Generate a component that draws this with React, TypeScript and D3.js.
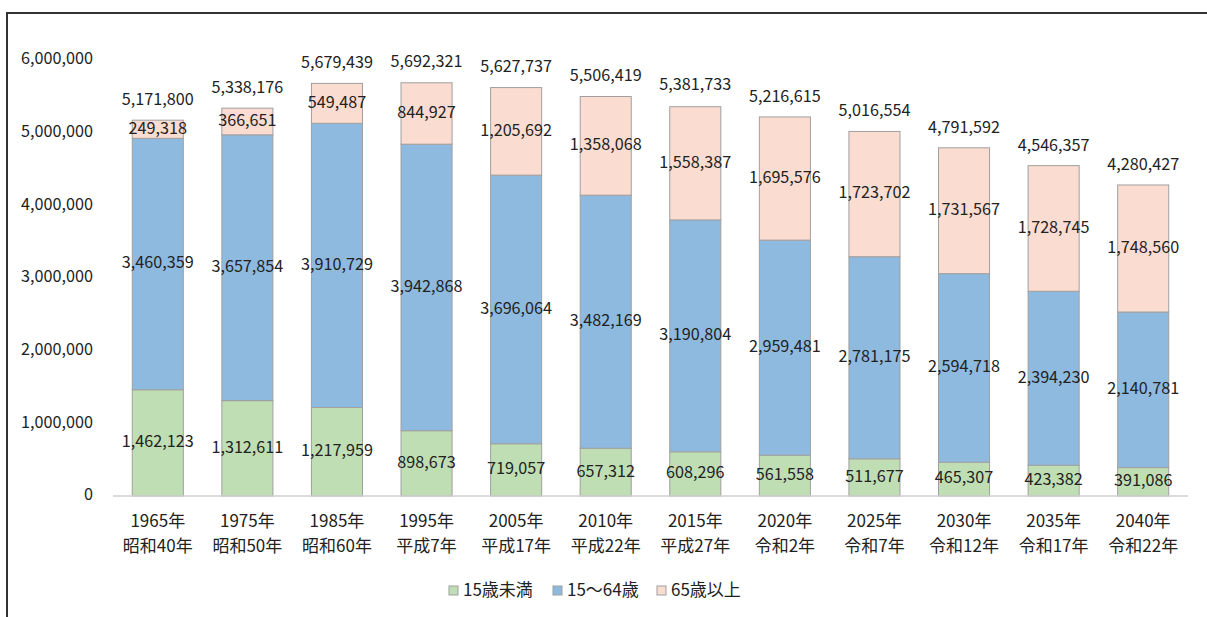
import React from "react";
import * as d3 from "d3";

const years = ["1965年", "1975年", "1985年", "1995年", "2005年", "2010年", "2015年", "2020年", "2025年", "2030年", "2035年", "2040年"];
const eras = ["昭和40年", "昭和50年", "昭和60年", "平成7年", "平成17年", "平成22年", "平成27年", "令和2年", "令和7年", "令和12年", "令和17年", "令和22年"];
const under15 = [1462123, 1312611, 1217959, 898673, 719057, 657312, 608296, 561558, 511677, 465307, 423382, 391086];
const age15to64 = [3460359, 3657854, 3910729, 3942868, 3696064, 3482169, 3190804, 2959481, 2781175, 2594718, 2394230, 2140781];
const over65 = [249318, 366651, 549487, 844927, 1205692, 1358068, 1558387, 1695576, 1723702, 1731567, 1728745, 1748560];
const totals = [5171800, 5338176, 5679439, 5692321, 5627737, 5506419, 5381733, 5216615, 5016554, 4791592, 4546357, 4280427];
const yTicks = [0, 1000000, 2000000, 3000000, 4000000, 5000000, 6000000];
const seriesNames = ["15歳未満", "15～64歳", "65歳以上"];
const seriesColors = ["#bfdeb3", "#8ebadf", "#fbdcd0"];

const FONT = "'Noto Sans CJK JP', 'Noto Sans', sans-serif";
const fmt = d3.format(",");
const NUM = 16.2;
const CAT = 17;

export default function App() {
  const W = 1207, H = 617;
  const x = d3.scaleBand<number>().domain(d3.range(years.length)).range([113, 1188]).paddingInner(0.43).paddingOuter(0.215);
  const y = d3.scaleLinear().domain([0, 6000000]).range([496, 60]);
  const rows = years.map((_, i) => ({ i, a: under15[i], b: age15to64[i], c: over65[i] }));
  const stack = d3.stack<any>().keys(["a", "b", "c"])(rows);
  const bw = x.bandwidth();

  return (
    <svg width={W} height={H} style={{ position: "absolute", left: 0, top: 0, background: "#fff" }} fontFamily={FONT}>
      <rect x={0} y={0} width={W} height={H} fill="#fff" />
      <line x1={6} x2={W} y1={13} y2={13} stroke="#333" strokeWidth={2} />
      <line x1={7} x2={7} y1={12} y2={H} stroke="#333" strokeWidth={2} />
      {yTicks.map((t) => (
        <text key={t} x={93} y={y(t)} textAnchor="end" dominantBaseline="middle" fontSize={NUM} fill="#222">
          {fmt(t)}
        </text>
      ))}
      {stack.map((layer, si) => (
        <g key={si}>
          {layer.map((d, i) => (
            <rect key={i} x={x(i)!} y={y(d[1])} width={bw} height={y(d[0]) - y(d[1])} fill={seriesColors[si]} stroke="#a0a0a0" strokeWidth={1} />
          ))}
        </g>
      ))}
      <line x1={113} x2={1188} y1={y(0)} y2={y(0)} stroke="#d0d0d0" strokeWidth={1.5} />
      {stack.map((layer, si) => (
        <g key={"l" + si}>
          {layer.map((d, i) => (
            <text key={i} x={x(i)! + bw / 2} y={(y(d[0]) + y(d[1])) / 2} textAnchor="middle" dominantBaseline="middle" fontSize={NUM} fill="#222">
              {fmt(d[1] - d[0])}
            </text>
          ))}
        </g>
      ))}
      {totals.map((t, i) => (
        <text key={i} x={x(i)! + bw / 2} y={y(t) - 19.5} textAnchor="middle" dominantBaseline="middle" fontSize={NUM} fill="#222">
          {fmt(t)}
        </text>
      ))}
      {years.map((yr, i) => (
        <g key={i}>
          <text x={x(i)! + bw / 2} y={522} textAnchor="middle" dominantBaseline="middle" fontSize={CAT} fill="#222">{yr}</text>
          <text x={x(i)! + bw / 2} y={547} textAnchor="middle" dominantBaseline="middle" fontSize={CAT} fill="#222">{eras[i]}</text>
        </g>
      ))}
      {seriesNames.map((n, si) => {
        const lx = 449 + si * 104;
        return (
          <g key={n}>
            <rect x={lx} y={586} width={9} height={9} fill={seriesColors[si]} stroke="#a0a0a0" strokeWidth={1} />
            <text x={lx + 14} y={591} dominantBaseline="middle" fontSize={CAT} fill="#222">{n}</text>
          </g>
        );
      })}
    </svg>
  );
}
